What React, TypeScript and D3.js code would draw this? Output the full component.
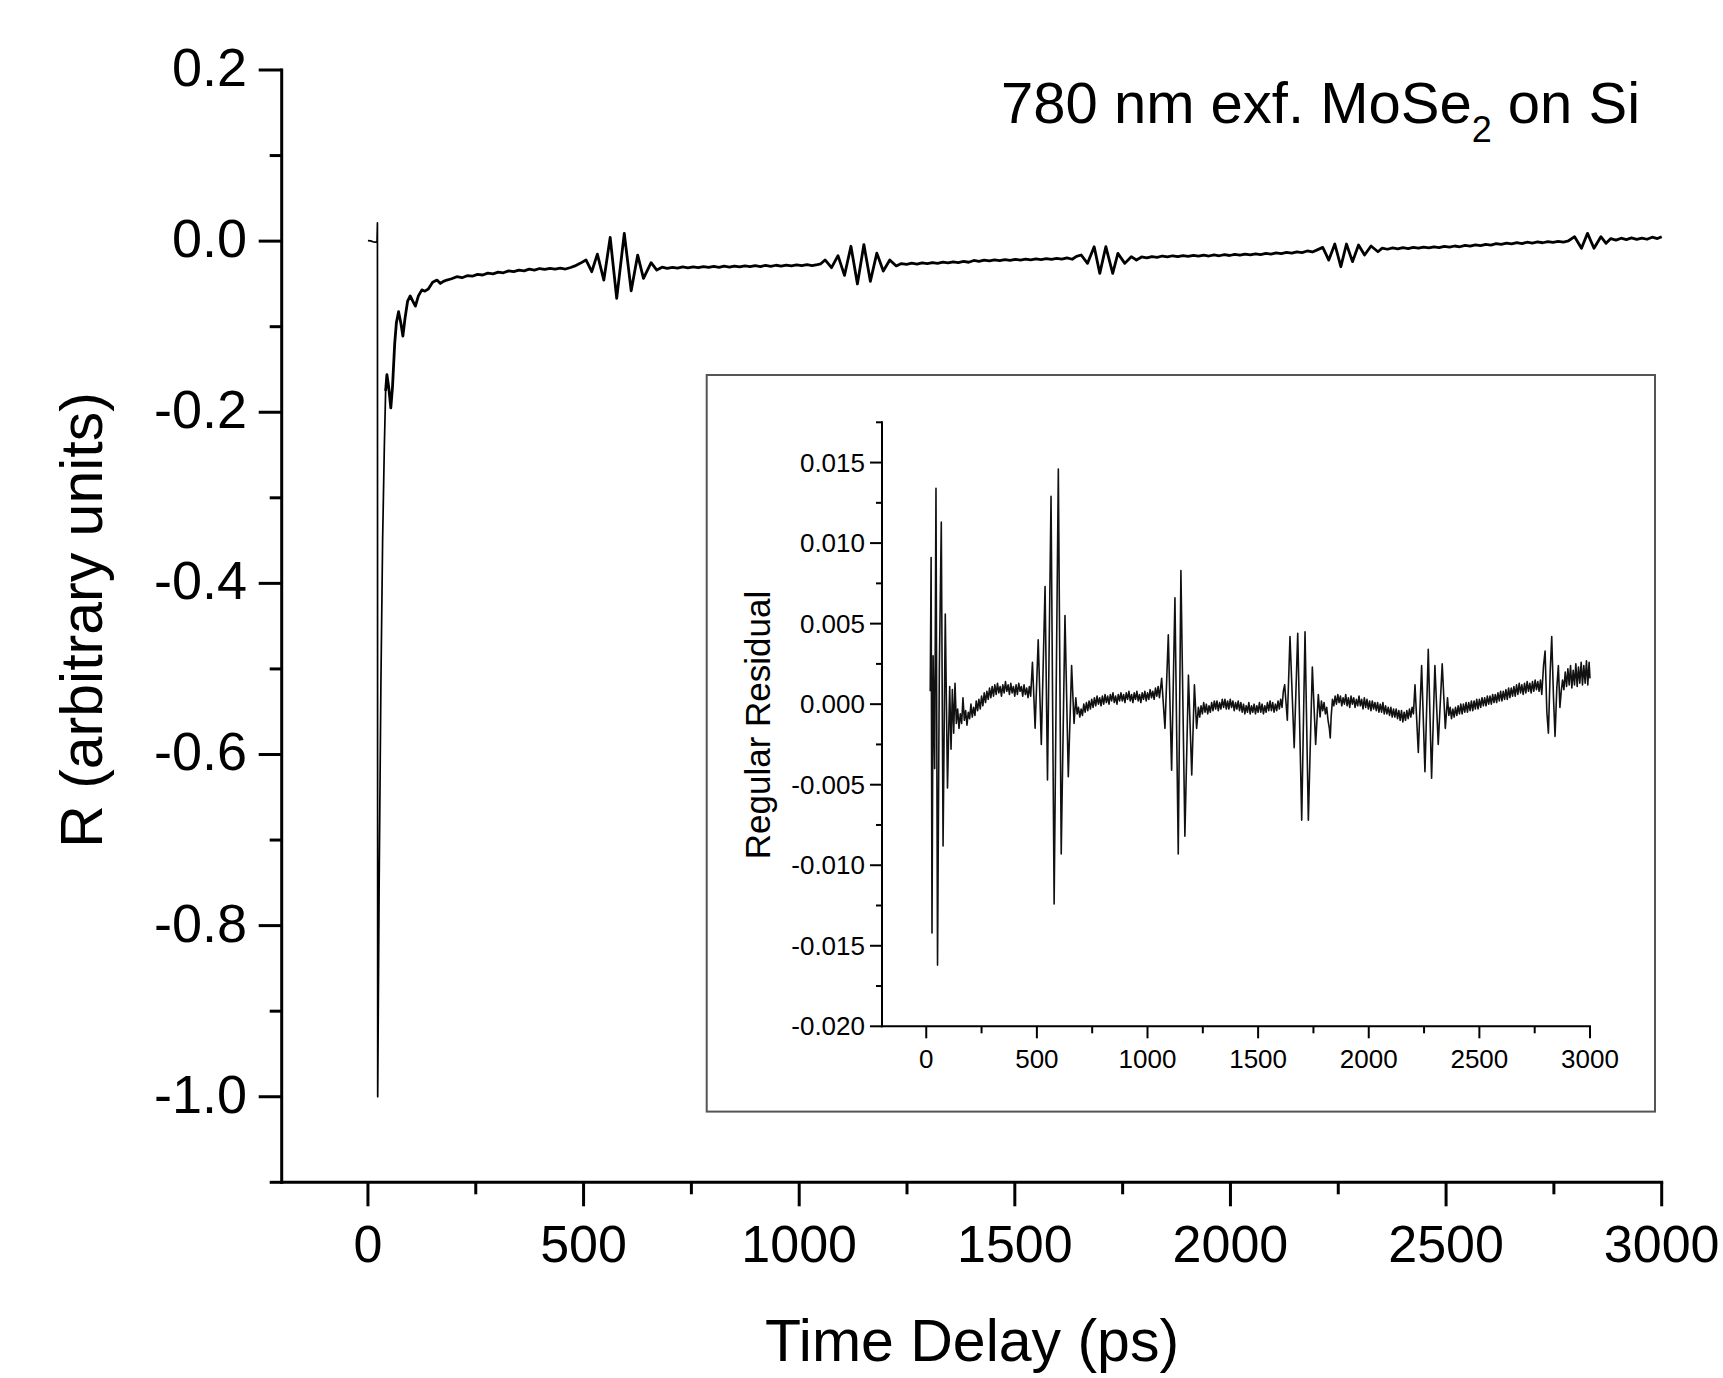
import React from "react";
import * as d3 from "d3";

// ---------- DATA ----------
// Main transient: [time delay (ps), R (arb. units)]
const mainCurve: [number, number][] = [
  [0, 0.0005], [6, 0.0003], [12, -0.0008], [18, -0.0012], [21, -0.001],
  [22, 0.0215], [22.6, -1.0], [26, -0.75], [30, -0.52], [34, -0.35], [38, -0.24],
  [41, -0.175], [44, -0.156], [48, -0.17], [53, -0.195], [57, -0.17], [62, -0.12],
  [66, -0.095], [71, -0.0825], [76, -0.095], [81, -0.111], [86, -0.09], [92, -0.07],
  [98, -0.064], [104, -0.07], [110, -0.076], [117, -0.064], [125, -0.057], [132, -0.0585],
  [140, -0.056], [150, -0.048], [160, -0.0455], [168, -0.0495], [175, -0.047], [183, -0.0455],
  [194, -0.044], [206, -0.0416], [218, -0.0428], [230, -0.0404], [242, -0.041], [254, -0.0388],
  [266, -0.0396], [278, -0.0374], [290, -0.0383], [302, -0.0362], [314, -0.037], [326, -0.0348],
  [338, -0.0357], [350, -0.0338], [362, -0.0347], [374, -0.0328], [386, -0.0338], [398, -0.032],
  [410, -0.0331], [422, -0.0318], [434, -0.0328], [446, -0.0316], [458, -0.0326], [470, -0.0308],
  [480, -0.029], [492, -0.026],
  [505.6, -0.022], [519, -0.0357], [532, -0.0152], [547, -0.0455], [561.7, 0.0044], [576.8, -0.0669],
  [594.4, 0.0091], [610.4, -0.058], [625.5, -0.0163], [638.9, -0.0435], [656.6, -0.0252], [669.8, -0.0338],
  [682, -0.0305], [694, -0.0318], [706, -0.0306], [718, -0.0316], [730, -0.0302], [742, -0.0312],
  [754, -0.03], [766, -0.0311], [778, -0.0297], [790, -0.0308], [802, -0.0296], [814, -0.0306],
  [826, -0.0293], [838, -0.0304], [850, -0.0291], [862, -0.0301], [874, -0.0289], [886, -0.0299],
  [898, -0.0287], [910, -0.0297], [922, -0.0284], [934, -0.0294], [946, -0.0282], [958, -0.0292],
  [970, -0.028], [982, -0.029], [994, -0.0278], [1006, -0.0287], [1018, -0.0275], [1030, -0.0285],
  [1042, -0.0274], [1050, -0.0265],
  [1060, -0.022], [1075, -0.031], [1090, -0.017], [1105, -0.04], [1120, -0.006], [1135, -0.05],
  [1150, -0.004], [1165, -0.047], [1180, -0.014], [1195, -0.035], [1210, -0.022], [1225, -0.029],
  [1237, -0.0262], [1249, -0.0272], [1261, -0.0258], [1273, -0.0268], [1285, -0.0254], [1297, -0.0264],
  [1309, -0.025], [1321, -0.0259], [1333, -0.0246], [1345, -0.0255], [1357, -0.0242], [1369, -0.0251],
  [1381, -0.0238], [1393, -0.0247], [1405, -0.0226], [1417, -0.0236], [1429, -0.0222], [1441, -0.0231],
  [1453, -0.0219], [1465, -0.0228], [1477, -0.0216], [1489, -0.0225], [1501, -0.0213], [1513, -0.0222],
  [1525, -0.021], [1537, -0.0219], [1549, -0.0207], [1561, -0.0216], [1573, -0.0204], [1585, -0.0213],
  [1597, -0.0201], [1609, -0.0211], [1621, -0.0196], [1633, -0.0212], [1643, -0.0178],
  [1654, -0.0162], [1668.5, -0.026], [1684, -0.0065], [1697, -0.0377], [1711, -0.0065], [1727, -0.0377],
  [1739, -0.0143], [1755, -0.026], [1770, -0.0182], [1782, -0.0221],
  [1794, -0.0185], [1806, -0.0196], [1818, -0.018], [1830, -0.019], [1842, -0.0174], [1854, -0.0185],
  [1866, -0.0171], [1878, -0.0182], [1890, -0.0169], [1902, -0.0179], [1914, -0.0166], [1926, -0.0176],
  [1938, -0.0164], [1950, -0.0174], [1962, -0.016], [1974, -0.0171], [1986, -0.0158], [1998, -0.0168],
  [2010, -0.0155], [2022, -0.0165], [2034, -0.0152], [2046, -0.0161], [2058, -0.0148], [2070, -0.0157],
  [2082, -0.0143], [2094, -0.0152], [2106, -0.0138], [2118, -0.0147], [2130, -0.0132], [2142, -0.0141],
  [2154, -0.0126], [2166, -0.0134], [2178, -0.0115], [2190, -0.0127], [2200, -0.0105],
  [2214, -0.0073], [2228, -0.0221], [2242, -0.0034], [2256, -0.0299], [2269, -0.0034], [2283, -0.024],
  [2297, -0.0046], [2311, -0.0162], [2326, -0.0057], [2342, -0.0124],
  [2352, -0.0082], [2364, -0.0095], [2376, -0.008], [2388, -0.009], [2400, -0.0076], [2412, -0.0087],
  [2424, -0.0073], [2436, -0.0083], [2448, -0.007], [2460, -0.008], [2472, -0.0066], [2484, -0.0076],
  [2496, -0.0062], [2508, -0.0071], [2520, -0.0057], [2532, -0.0066], [2544, -0.005], [2556, -0.0059],
  [2568, -0.0043], [2580, -0.0052], [2592, -0.0037], [2604, -0.0046], [2616, -0.003], [2628, -0.0039],
  [2640, -0.0024], [2652, -0.0033], [2664, -0.0018], [2676, -0.0028], [2688, -0.0013], [2700, -0.0023],
  [2712, -0.0009], [2724, -0.0019], [2736, -0.0005], [2748, -0.0015], [2760, -0.0002], [2772, -0.0012],
  [2784, 0.0004],
  [2798, 0.0052], [2814, -0.0084], [2828, 0.0091], [2843, -0.0084], [2859, 0.0052], [2871, -0.0026],
  [2882, 0.003], [2894, 0.0012], [2906, 0.0034], [2918, 0.0018], [2930, 0.0038], [2942, 0.002],
  [2954, 0.0036], [2966, 0.0022], [2978, 0.0046], [2990, 0.003], [3000, 0.0052],
];

// Inset: regular residual of the fit, [time delay (ps), residual]
const residualCurve: [number, number][] = [
  [18, 0.0008], [22, 0.0091], [26, -0.0142], [31, 0.003], [38, -0.004], [44, 0.0134], [51, -0.0162],
  [59, 0.002], [68, 0.0113], [76, -0.0088], [86, 0.0056], [96, -0.0052], [106, 0.0011], [112, -0.0028],
  [118, 0.0009], [124, -0.0018], [130, 0.0013], [136, -0.0012],
  [142, -0.0003], [148, -0.0015], [154, -0.0006], [160, -0.0012], [166, 0.0004], [172, -0.001],
  [178, -0.0004], [184, -0.0013], [190, -0.0005], [196, -0.0009], [202, 0.0], [208, -0.0008],
  [214, -0.0002], [220, -0.0007], [226, 0.0002], [232, -0.0004], [238, 0.0003], [244, -0.0003],
  [250, 0.0005], [256, -0.0001], [262, 0.0007], [268, 0.0001], [274, 0.0008], [280, 0.0003],
  [286, 0.001], [292, 0.0004], [298, 0.0011], [304, 0.0005], [310, 0.0012], [316, 0.0006],
  [322, 0.0013], [328, 0.0007], [334, 0.0011], [340, 0.0005], [346, 0.0012], [352, 0.0007],
  [358, 0.0014], [364, 0.0008], [370, 0.0012], [376, 0.0006], [382, 0.0013], [388, 0.0007],
  [394, 0.0011], [400, 0.0005], [406, 0.0012], [412, 0.0006], [418, 0.0013], [424, 0.0008],
  [430, 0.0011], [436, 0.0005], [442, 0.0012], [448, 0.0006], [454, 0.001], [460, 0.0004], [466, 0.0011],
  [472, 0.0005], [480, 0.0026], [492, -0.0015], [506, 0.004], [520, -0.0025], [537, 0.0073],
  [548, -0.0047], [564, 0.0129], [578, -0.0124], [597, 0.0146], [610, -0.0093], [627, 0.0055],
  [642, -0.0045], [657, 0.0024], [668, -0.0012], [676, 0.0004],
  [682, -0.0006], [688, -0.0002], [694, -0.0008], [700, -0.0003], [706, -0.0007], [712, 0.0],
  [718, -0.0005], [724, 0.0001], [730, -0.0004], [736, 0.0002], [742, -0.0003], [748, 0.0003],
  [754, -0.0002], [760, 0.0004], [766, -0.0001], [772, 0.0005], [778, 0.0], [784, 0.0004],
  [790, -0.0001], [796, 0.0005], [802, 0.0], [808, 0.0006], [814, 0.0001], [820, 0.0005],
  [826, 0.0], [832, 0.0006], [838, 0.0002], [844, 0.0007], [850, 0.0001], [856, 0.0005],
  [862, 0.0], [868, 0.0006], [874, 0.0002], [880, 0.0007], [886, 0.0002], [892, 0.0006],
  [898, 0.0001], [904, 0.0007], [910, 0.0003], [916, 0.0008], [922, 0.0002], [928, 0.0006],
  [934, 0.0001], [940, 0.0007], [946, 0.0003], [952, 0.0008], [958, 0.0002], [964, 0.0006],
  [970, 0.0001], [976, 0.0007], [982, 0.0003], [988, 0.0008], [994, 0.0002], [1000, 0.0007],
  [1006, 0.0003], [1012, 0.0009], [1018, 0.0004], [1024, 0.0008], [1030, 0.0003], [1036, 0.001],
  [1042, 0.0005], [1048, 0.0011],
  [1054, 0.0004], [1064, 0.0016], [1079, -0.0015], [1094, 0.0043], [1109, -0.0041], [1124, 0.0066],
  [1139, -0.0093], [1151, 0.0083], [1169, -0.0082], [1185, 0.0018], [1200, -0.0044], [1212, 0.0012],
  [1222, -0.0015],
  [1230, -0.0002], [1236, -0.0008], [1242, -0.0001], [1248, -0.0006], [1254, 0.0001], [1260, -0.0005],
  [1266, 0.0], [1272, -0.0006], [1278, -0.0001], [1284, -0.0005], [1290, 0.0001], [1296, -0.0004],
  [1302, 0.0002], [1308, -0.0003], [1314, 0.0002], [1320, -0.0004], [1326, 0.0001], [1332, -0.0003],
  [1338, 0.0003], [1344, -0.0002], [1350, 0.0003], [1356, -0.0003], [1362, 0.0002], [1368, -0.0003],
  [1374, 0.0003], [1380, -0.0002], [1386, 0.0002], [1392, -0.0004], [1398, 0.0001], [1404, -0.0003],
  [1410, 0.0002], [1416, -0.0004], [1422, 0.0001], [1428, -0.0005], [1434, 0.0], [1440, -0.0006],
  [1446, -0.0001], [1452, -0.0005], [1458, 0.0001], [1464, -0.0006], [1470, -0.0001], [1476, -0.0005],
  [1482, 0.0], [1488, -0.0006], [1494, -0.0001], [1500, -0.0005], [1506, 0.0001], [1512, -0.0005],
  [1518, 0.0], [1524, -0.0006], [1530, -0.0001], [1536, -0.0005], [1542, 0.0001], [1548, -0.0004],
  [1554, 0.0002], [1560, -0.0004], [1566, 0.0001], [1572, -0.0005], [1578, 0.0], [1584, -0.0004],
  [1590, 0.0002], [1596, -0.0003], [1602, 0.0003], [1608, -0.0002],
  [1614, 0.0008], [1620, 0.0012], [1632, -0.001], [1644, 0.0042], [1663, -0.0027], [1679, 0.0044],
  [1697, -0.0072], [1712, 0.0045], [1727, -0.0072], [1745, 0.0023], [1760, -0.0025], [1772, 0.0006],
  [1780, -0.0008],
  [1786, 0.0002], [1792, -0.0004], [1798, 0.0001], [1804, -0.0006], [1810, -0.0002], [1816, -0.001],
  [1822, -0.0015], [1826, -0.0021], [1830, -0.0008], [1836, 0.0003], [1842, -0.0001], [1848, 0.0005],
  [1854, 0.0], [1860, 0.0006], [1866, 0.0001], [1872, 0.0005], [1878, -0.0001], [1884, 0.0004],
  [1890, 0.0], [1896, 0.0006], [1902, -0.0001], [1908, 0.0004], [1914, -0.0002], [1920, 0.0005],
  [1926, 0.0], [1932, 0.0004], [1938, -0.0002], [1944, 0.0003], [1950, -0.0001], [1956, 0.0005],
  [1962, -0.0001], [1968, 0.0003], [1974, -0.0003], [1980, 0.0004], [1986, -0.0002], [1992, 0.0003],
  [1998, -0.0003], [2004, 0.0002], [2010, -0.0004], [2016, 0.0002], [2022, -0.0003], [2028, 0.0001],
  [2034, -0.0004], [2040, 0.0001], [2046, -0.0005], [2052, 0.0], [2058, -0.0005], [2064, 0.0001],
  [2070, -0.0006], [2076, -0.0001], [2082, -0.0006], [2088, -0.0002], [2094, -0.0007], [2100, -0.0002],
  [2106, -0.0008], [2112, -0.0003], [2118, -0.0008], [2124, -0.0003], [2130, -0.0009], [2136, -0.0004],
  [2142, -0.001], [2148, -0.0004], [2154, -0.0011], [2160, -0.0005], [2166, -0.001], [2172, -0.0004],
  [2178, -0.0009], [2184, -0.0003], [2190, -0.0008], [2196, -0.0002],
  [2202, -0.0006], [2209, 0.0012], [2224, -0.003], [2239, 0.0024], [2254, -0.0042], [2269, 0.0034],
  [2284, -0.0046], [2299, 0.0024], [2314, -0.0025], [2332, 0.0025], [2346, -0.0015], [2356, 0.0004],
  [2362, -0.0007], [2368, -0.0002], [2374, -0.0009], [2380, -0.0003], [2386, -0.0008], [2392, -0.0002],
  [2398, -0.0007], [2404, -0.0001], [2410, -0.0006], [2416, 0.0], [2422, -0.0006], [2428, 0.0],
  [2434, -0.0005], [2440, 0.0001], [2446, -0.0005], [2452, 0.0001], [2458, -0.0004], [2464, 0.0002],
  [2470, -0.0004], [2476, 0.0002], [2482, -0.0003], [2488, 0.0003], [2494, -0.0003], [2500, 0.0003],
  [2506, -0.0002], [2512, 0.0004], [2518, -0.0001], [2524, 0.0004], [2530, -0.0001], [2536, 0.0005],
  [2542, 0.0], [2548, 0.0005], [2554, 0.0], [2560, 0.0006], [2566, 0.0001], [2572, 0.0006],
  [2578, 0.0001], [2584, 0.0007], [2590, 0.0002], [2596, 0.0008], [2602, 0.0002], [2608, 0.0008],
  [2614, 0.0003], [2620, 0.0009], [2626, 0.0003], [2632, 0.001], [2638, 0.0004], [2644, 0.001],
  [2650, 0.0005], [2656, 0.0011], [2662, 0.0005], [2668, 0.0012], [2674, 0.0006], [2680, 0.0013],
  [2686, 0.0007], [2692, 0.0012], [2698, 0.0006], [2704, 0.0013], [2710, 0.0007], [2716, 0.0014],
  [2722, 0.0008], [2728, 0.0013], [2734, 0.0007], [2740, 0.0014], [2746, 0.0008], [2752, 0.0015],
  [2758, 0.0009], [2764, 0.0014], [2770, 0.0008], [2776, 0.0015],
  [2782, 0.0006], [2790, 0.0024], [2797, 0.0033], [2805, -0.0005], [2812, -0.0018], [2820, 0.002],
  [2827, 0.0042], [2835, 0.0004], [2842, -0.002], [2850, 0.001], [2857, 0.0024], [2864, -0.0002],
  [2870, 0.0008],
  [2876, 0.0015], [2882, 0.0009], [2888, 0.002], [2894, 0.0011], [2900, 0.0022], [2906, 0.0012],
  [2912, 0.0024], [2918, 0.001], [2924, 0.0021], [2930, 0.0012], [2936, 0.0025], [2942, 0.0011],
  [2948, 0.0023], [2954, 0.0013], [2960, 0.0026], [2966, 0.0012], [2972, 0.0024], [2978, 0.0013],
  [2984, 0.0027], [2990, 0.0012], [2996, 0.0026], [3000, 0.0016],
];

// Tick values and labels
const mainXMajor = [0, 500, 1000, 1500, 2000, 2500, 3000];
const mainXMinor = [250, 750, 1250, 1750, 2250, 2750];
const mainYMajor = [0.2, 0.0, -0.2, -0.4, -0.6, -0.8, -1.0];
const mainYLabels = ["0.2", "0.0", "-0.2", "-0.4", "-0.6", "-0.8", "-1.0"];
const mainYMinor = [0.1, -0.1, -0.3, -0.5, -0.7, -0.9, -1.1];

const insetXMajor = [0, 500, 1000, 1500, 2000, 2500, 3000];
const insetXMinor = [250, 750, 1250, 1750, 2250, 2750];
const insetYMajor = [0.015, 0.01, 0.005, 0.0, -0.005, -0.01, -0.015, -0.02];
const insetYLabels = ["0.015", "0.010", "0.005", "0.000", "-0.005", "-0.010", "-0.015", "-0.020"];
const insetYMinor = [0.0175, 0.0125, 0.0075, 0.0025, -0.0025, -0.0075, -0.0125, -0.0175];

const FONT = "'Liberation Sans', Arial, Helvetica, sans-serif";

export default function App() {
  const W = 1723;
  const H = 1378;

  // main scales
  const x = d3.scaleLinear().domain([-200, 3000]).range([281.7, 1661.7]);
  const y = d3.scaleLinear().domain([-1.1, 0.2]).range([1182.3, 70]);
  // inset scales
  const xi = d3.scaleLinear().domain([-200, 3000]).range([882, 1590]);
  const yi = d3.scaleLinear().domain([-0.02, 0.0175]).range([1026.3, 422.3]);

  const mainLine = d3
    .line<[number, number]>()
    .x((d) => x(d[0]))
    .y((d) => y(d[1]));
  const resLine = d3
    .line<[number, number]>()
    .x((d) => xi(d[0]))
    .y((d) => yi(d[1]));

  // the fast spike is drawn thinner than the slowly-varying remainder
  const spikePart = mainCurve.filter((d) => d[0] <= 44);
  const slowPart = mainCurve.filter((d) => d[0] >= 41);

  const ax0 = x(-200);
  const ay0 = y(-1.1);
  const ixa = xi(-200);
  const iya = yi(-0.02);

  return (
    <svg
      width={W}
      height={H}
      viewBox={`0 0 ${W} ${H}`}
      style={{ position: "absolute", left: 0, top: 0, background: "#fff" }}
      fontFamily={FONT}
    >
      <rect x={0} y={0} width={W} height={H} fill="#fff" />

      {/* ---------- main axes ---------- */}
      <g stroke="#000" strokeWidth={3} fill="none">
        <line x1={ax0} x2={ax0} y1={y(0.2) - 1.5} y2={ay0 + 1.5} />
        <line x1={ax0 - 1.5} x2={x(3000) + 1.5} y1={ay0} y2={ay0} />
        {mainYMajor.map((v) => (
          <line key={"ym" + v} x1={ax0 - 23} x2={ax0} y1={y(v)} y2={y(v)} />
        ))}
        {mainYMinor.map((v) => (
          <line key={"yn" + v} x1={ax0 - 12} x2={ax0} y1={y(v)} y2={y(v)} />
        ))}
        {mainXMajor.map((v) => (
          <line key={"xm" + v} x1={x(v)} x2={x(v)} y1={ay0} y2={ay0 + 24} />
        ))}
        {mainXMinor.map((v) => (
          <line key={"xn" + v} x1={x(v)} x2={x(v)} y1={ay0} y2={ay0 + 12} />
        ))}
      </g>
      <g fontSize={54} fill="#000">
        {mainYMajor.map((v, i) => (
          <text key={"yl" + v} x={247} y={y(v) + 16} textAnchor="end">
            {mainYLabels[i]}
          </text>
        ))}
      </g>
      <g fontSize={52} fill="#000">
        {mainXMajor.map((v) => (
          <text key={"xl" + v} x={x(v)} y={1261.7} textAnchor="middle">
            {String(v)}
          </text>
        ))}
      </g>
      <text x={972} y={1361} fontSize={59} textAnchor="middle" fill="#000">
        Time Delay (ps)
      </text>
      <text
        transform={`translate(102,620) rotate(-90)`}
        fontSize={59}
        textAnchor="middle"
        fill="#000"
      >
        R (arbitrary units)
      </text>
      <text x={1001} y={123} fontSize={58} fill="#000">
        780 nm exf. MoSe
        <tspan fontSize={36} dy={19}>2</tspan>
        <tspan dy={-19}> on Si</tspan>
      </text>

      {/* main data */}
      <path
        d={mainLine(spikePart) || ""}
        fill="none"
        stroke="#000"
        strokeWidth={1.7}
        strokeLinejoin="round"
      />
      <path
        d={mainLine(slowPart) || ""}
        fill="none"
        stroke="#000"
        strokeWidth={2.8}
        strokeLinejoin="round"
      />

      {/* ---------- inset ---------- */}
      <rect
        x={706.7}
        y={375}
        width={1655 - 706.7}
        height={1111.6 - 375}
        fill="#fff"
        stroke="#555"
        strokeWidth={2}
      />
      <g stroke="#000" strokeWidth={2} fill="none">
        <line x1={ixa} x2={ixa} y1={yi(0.0175) - 1} y2={iya + 1} />
        <line x1={ixa - 1} x2={xi(3000) + 1} y1={iya} y2={iya} />
        {insetYMajor.map((v) => (
          <line key={"iym" + v} x1={ixa - 12} x2={ixa} y1={yi(v)} y2={yi(v)} />
        ))}
        {insetYMinor.map((v) => (
          <line key={"iyn" + v} x1={ixa - 6} x2={ixa} y1={yi(v)} y2={yi(v)} />
        ))}
        {insetXMajor.map((v) => (
          <line key={"ixm" + v} x1={xi(v)} x2={xi(v)} y1={iya} y2={iya + 12} />
        ))}
        {insetXMinor.map((v) => (
          <line key={"ixn" + v} x1={xi(v)} x2={xi(v)} y1={iya} y2={iya + 7} />
        ))}
      </g>
      <g fontSize={26} fill="#000">
        {insetYMajor.map((v, i) => (
          <text key={"iyl" + v} x={865} y={yi(v) + 9} textAnchor="end">
            {insetYLabels[i]}
          </text>
        ))}
        {insetXMajor.map((v) => (
          <text key={"ixl" + v} x={xi(v)} y={1068} textAnchor="middle">
            {String(v)}
          </text>
        ))}
      </g>
      <text
        transform={`translate(769.5,725) rotate(-90)`}
        fontSize={35}
        textAnchor="middle"
        fill="#000"
      >
        Regular Residual
      </text>
      <path
        d={resLine(residualCurve) || ""}
        fill="none"
        stroke="#111"
        strokeWidth={1.6}
        strokeLinejoin="round"
      />
    </svg>
  );
}
